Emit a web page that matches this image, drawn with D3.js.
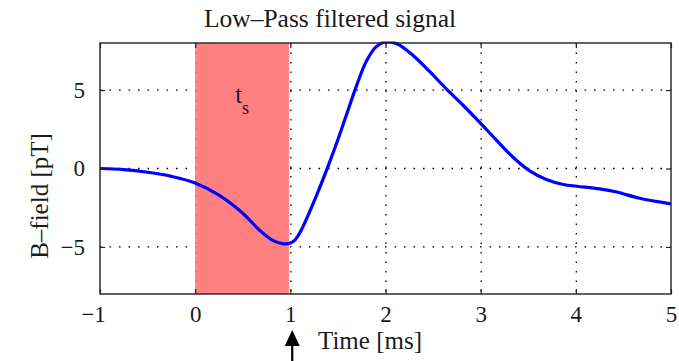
<!DOCTYPE html>
<html>
<head>
<meta charset="utf-8">
<script src="https://cdn.jsdelivr.net/npm/d3@7"></script>
<style>
  html, body { margin: 0; padding: 0; background: #fff; }
  svg { display: block; }
</style>
</head>
<body>
<svg id="chart" width="679" height="361"></svg>
<script>
// Low-pass filtered B-field signal (time in ms, field in pT)
const timeMs = [-1.0, -0.75, -0.5, -0.25, 0.0, 0.25, 0.5, 0.68, 0.82, 0.93, 1.0, 1.05, 1.1, 1.2, 1.3, 1.4, 1.5, 1.6, 1.7, 1.8, 1.9, 2.0, 2.12, 2.29, 2.47, 2.64, 2.82, 2.99, 3.17, 3.34, 3.52, 3.69, 3.87, 4.01, 4.25, 4.43, 4.67, 5.0];
const fieldPT = [0.0, -0.07, -0.24, -0.5, -0.92, -1.7, -2.85, -3.95, -4.6, -4.8, -4.75, -4.55, -4.1, -2.8, -1.35, 0.2, 1.85, 3.6, 5.35, 6.85, 7.75, 8.08, 7.95, 7.2, 6.14, 5.07, 4.0, 2.94, 1.78, 0.72, -0.17, -0.7, -1.02, -1.13, -1.3, -1.5, -1.9, -2.25];

const xTicks = [-1, 0, 1, 2, 3, 4, 5];
const yTicks = [-5, 0, 5];

// Shaded sampling window t_s
const windowStart = 0;
const windowEnd = 0.985;

const titleText = "Low\u2013Pass filtered signal";
const xLabelText = "Time [ms]";
const yLabelText = "B\u2013field [pT]";

const serifFamily = "Liberation Serif";
const ink = "#1a1a1a";

const svg = d3.select("#chart");
const plot = { left: 100, right: 671, top: 43, bottom: 294 };

const x = d3.scaleLinear().domain([-1, 5]).range([plot.left, plot.right]);
const y = d3.scaleLinear().domain([-8, 8]).range([plot.bottom, plot.top]);

const fmt = d => (d < 0 ? "\u2212" + Math.abs(d) : String(d));

const serif = (sel, size) => sel
  .attr("font-family", serifFamily)
  .style("font-family", serifFamily)
  .attr("font-size", size)
  .attr("fill", ink);

// Dotted grid
const grid = svg.append("g").attr("stroke", "#000").attr("stroke-width", 1.3)
  .attr("stroke-dasharray", "1.6,7.9");
grid.selectAll("line.v").data(xTicks.filter(d => d > -1 && d < 5)).join("line")
  .attr("x1", d => x(d) + 0.5).attr("x2", d => x(d) + 0.5)
  .attr("y1", plot.top).attr("y2", plot.bottom);
grid.selectAll("line.h").data(yTicks).join("line")
  .attr("x1", plot.left).attr("x2", plot.right)
  .attr("y1", d => y(d)).attr("y2", d => y(d));

// Sampling window
svg.append("rect")
  .attr("x", x(windowStart)).attr("y", plot.top)
  .attr("width", x(windowEnd) - x(windowStart))
  .attr("height", plot.bottom - plot.top)
  .attr("fill", "#ff8080");

svg.append("text")
  .attr("x", x(0.42)).attr("y", 103)
  .call(serif, 25)
  .text("t")
  .append("tspan").attr("dy", 11).attr("font-size", 18).text("s");

// Signal curve
svg.append("defs").append("clipPath").attr("id", "plotClip")
  .append("rect").attr("x", plot.left).attr("y", plot.top - 1.5)
  .attr("width", plot.right - plot.left).attr("height", plot.bottom - plot.top + 1.5);

const line = d3.line()
  .x((d, i) => x(timeMs[i]))
  .y(d => y(d))
  .curve(d3.curveCatmullRom.alpha(0.5));

svg.append("path")
  .datum(fieldPT)
  .attr("clip-path", "url(#plotClip)")
  .attr("fill", "none")
  .attr("stroke", "#0000ff")
  .attr("stroke-width", 3.2)
  .attr("stroke-linejoin", "round")
  .attr("d", line);

// Axes (ticks pointing inward)
const axisStyle = g => {
  g.select(".domain").remove();
  g.selectAll(".tick line").attr("stroke", "#222").attr("stroke-width", 1.2);
  g.selectAll(".tick text").call(serif, 23);
};

svg.append("g").attr("transform", `translate(0,${plot.bottom})`)
  .call(d3.axisBottom(x).tickValues(xTicks).tickFormat(fmt).tickSizeInner(-5).tickPadding(12))
  .call(axisStyle)
  .call(g => g.selectAll(".tick text").filter(d => d < 0).attr("dx", -7));

svg.append("g").attr("transform", `translate(0,${plot.top})`)
  .call(d3.axisTop(x).tickValues(xTicks).tickFormat("").tickSizeInner(-5))
  .call(axisStyle);

svg.append("g").attr("transform", `translate(${plot.left},0)`)
  .call(d3.axisLeft(y).tickValues(yTicks).tickFormat(fmt).tickSizeInner(-5).tickPadding(15))
  .call(axisStyle);

svg.append("g").attr("transform", `translate(${plot.right},0)`)
  .call(d3.axisRight(y).tickValues(yTicks).tickFormat("").tickSizeInner(-5))
  .call(axisStyle);

// Frame
svg.append("rect")
  .attr("x", plot.left).attr("y", plot.top)
  .attr("width", plot.right - plot.left).attr("height", plot.bottom - plot.top)
  .attr("fill", "none").attr("stroke", "#222").attr("stroke-width", 1.4);

// Titles
svg.append("text").attr("x", 330).attr("y", 27).attr("text-anchor", "middle")
  .call(serif, 25.5).text(titleText);

svg.append("text").attr("x", 370).attr("y", 349).attr("text-anchor", "middle")
  .call(serif, 25).text(xLabelText);

svg.append("text")
  .attr("transform", `translate(48,196) rotate(-90)`)
  .attr("text-anchor", "middle")
  .call(serif, 25).text(yLabelText);

// Arrow marking the end of the window
const ax = x(1.02);
svg.append("line").attr("x1", ax).attr("x2", ax).attr("y1", 342).attr("y2", 361)
  .attr("stroke", "#000").attr("stroke-width", 2.2);
svg.append("path")
  .attr("d", `M${ax},330 L${ax - 7.5},346 L${ax + 7.5},346 Z`)
  .attr("fill", "#000");
</script>
</body>
</html>
